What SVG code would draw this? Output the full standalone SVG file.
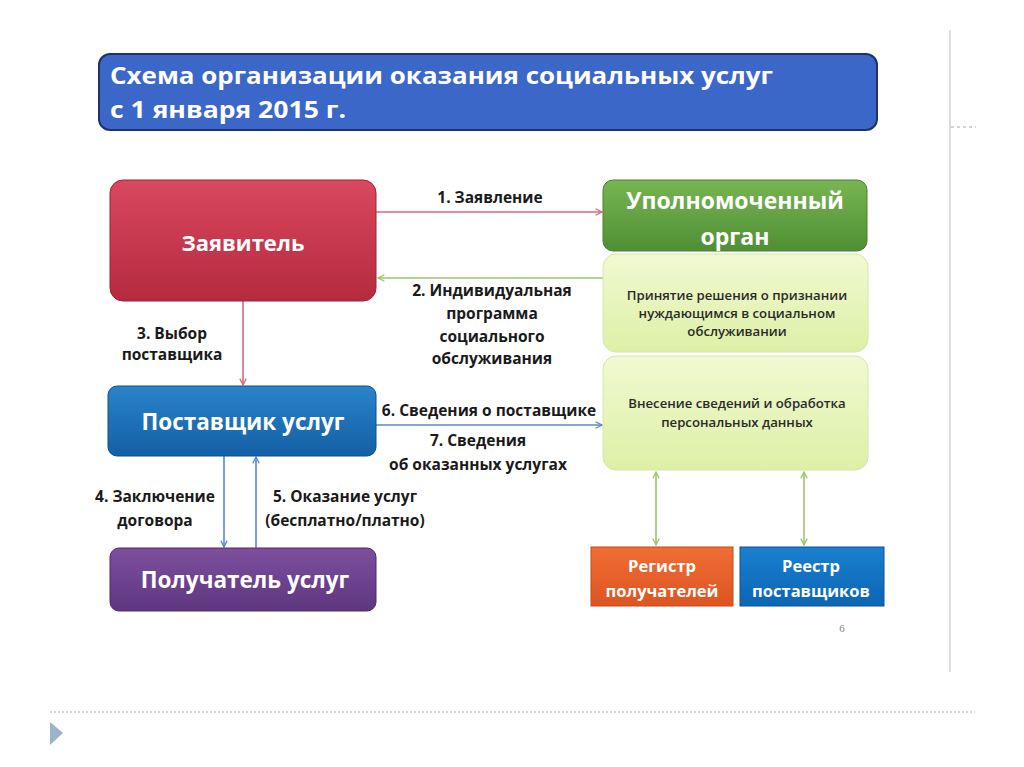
<svg xmlns="http://www.w3.org/2000/svg" width="1024" height="767" viewBox="0 0 1024 767">
<style>
.t{font-family:"Open Sans","Liberation Sans",sans-serif;font-weight:bold}
.wh{fill:#ffffff}
.lbl{font-family:"Open Sans","Liberation Sans",sans-serif;font-weight:bold;font-size:15.5px;fill:#1a1a1a;text-anchor:middle}
.sm{font-family:"Open Sans","Liberation Sans",sans-serif;font-weight:600;font-size:13.2px;fill:#2a2a2a;text-anchor:middle}
.mid{text-anchor:middle}
</style>
<defs>
<linearGradient id="gRed" x1="0" y1="0" x2="0" y2="1"><stop offset="0" stop-color="#d9485e"/><stop offset="1" stop-color="#b52a3e"/></linearGradient>
<linearGradient id="gGreen" x1="0" y1="0" x2="0" y2="1"><stop offset="0" stop-color="#78b552"/><stop offset="1" stop-color="#4f8f35"/></linearGradient>
<linearGradient id="gLight" x1="0" y1="0" x2="0" y2="1"><stop offset="0" stop-color="#f1f9d2"/><stop offset="1" stop-color="#ddf0a6"/></linearGradient>
<linearGradient id="gBlue" x1="0" y1="0" x2="0" y2="1"><stop offset="0" stop-color="#2a84c8"/><stop offset="1" stop-color="#135fa6"/></linearGradient>
<linearGradient id="gPurple" x1="0" y1="0" x2="0" y2="1"><stop offset="0" stop-color="#7d4f9c"/><stop offset="1" stop-color="#5e3680"/></linearGradient>
<linearGradient id="gOrange" x1="0" y1="0" x2="0" y2="1"><stop offset="0" stop-color="#f06d34"/><stop offset="1" stop-color="#dc5522"/></linearGradient>
<linearGradient id="gBlue2" x1="0" y1="0" x2="0" y2="1"><stop offset="0" stop-color="#1a7fd0"/><stop offset="1" stop-color="#0c66b4"/></linearGradient>
<marker id="aRed" viewBox="0 0 10 10" refX="9" refY="5" markerWidth="8" markerHeight="8" orient="auto-start-reverse" markerUnits="userSpaceOnUse"><path d="M1,1 L9,5 L1,9" fill="none" stroke="#d9677a" stroke-width="1.6"/></marker>
<marker id="aGreen" viewBox="0 0 10 10" refX="9" refY="5" markerWidth="8" markerHeight="8" orient="auto-start-reverse" markerUnits="userSpaceOnUse"><path d="M1,1 L9,5 L1,9" fill="none" stroke="#9cc46e" stroke-width="1.6"/></marker>
<marker id="aBlue" viewBox="0 0 10 10" refX="9" refY="5" markerWidth="8" markerHeight="8" orient="auto-start-reverse" markerUnits="userSpaceOnUse"><path d="M1,1 L9,5 L1,9" fill="none" stroke="#5f86c4" stroke-width="1.6"/></marker>
</defs>
<rect width="1024" height="767" fill="#ffffff"/>
<g id="frame">
<line x1="950" y1="30" x2="950" y2="672" stroke="#d0d0d0" stroke-width="1.5"/>
<line x1="951" y1="127" x2="976" y2="127" stroke="#9aaabb" stroke-width="1" stroke-dasharray="3,3"/>
<line x1="50" y1="712" x2="975" y2="712" stroke="#9ab4c8" stroke-width="1.2" stroke-dasharray="2,2"/>
<path d="M50,722 L63,733 L50,745 Z" fill="#9ab4c8"/>
</g>
<g id="title">
<rect x="99" y="54" width="778" height="76" rx="11" fill="#3b67c9" stroke="#1e3468" stroke-width="2"/>
<text class="t wh" x="110" y="84" font-size="24" textLength="663" lengthAdjust="spacingAndGlyphs">Схема организации оказания социальных услуг</text>
<text class="t wh" x="110" y="118" font-size="24" textLength="236" lengthAdjust="spacingAndGlyphs">с 1 января 2015 г.</text>
</g>
<g id="connectors" fill="none" stroke-width="1.6">
<line x1="376" y1="212" x2="602" y2="212" stroke="#d9677a" marker-end="url(#aRed)"/>
<line x1="603" y1="278" x2="378" y2="278" stroke="#9cc46e" marker-end="url(#aGreen)"/>
<line x1="243" y1="301" x2="243" y2="385" stroke="#d9677a" marker-end="url(#aRed)"/>
<line x1="376" y1="425" x2="602" y2="425" stroke="#5f86c4" marker-end="url(#aBlue)"/>
<line x1="224" y1="456" x2="224" y2="547" stroke="#5f86c4" marker-end="url(#aBlue)"/>
<line x1="256" y1="548" x2="256" y2="457" stroke="#5f86c4" marker-end="url(#aBlue)"/>
<line x1="656" y1="472" x2="656" y2="545" stroke="#9cc46e" marker-start="url(#aGreen)" marker-end="url(#aGreen)"/>
<line x1="804" y1="472" x2="804" y2="545" stroke="#9cc46e" marker-start="url(#aGreen)" marker-end="url(#aGreen)"/>
</g>
<g id="labels">
<text class="lbl" x="490" y="203">1. Заявление</text>
<text class="lbl" x="492" y="296">2. Индивидуальная</text>
<text class="lbl" x="492" y="319">программа</text>
<text class="lbl" x="492" y="342">социального</text>
<text class="lbl" x="492" y="364">обслуживания</text>
<text class="lbl" x="172" y="339">3. Выбор</text>
<text class="lbl" x="172" y="360">поставщика</text>
<text class="lbl" x="489" y="416">6. Сведения о поставщике</text>
<text class="lbl" x="478" y="446">7. Сведения</text>
<text class="lbl" x="478" y="470">об оказанных услугах</text>
<text class="lbl" x="155" y="502">4. Заключение</text>
<text class="lbl" x="155" y="526">договора</text>
<text class="lbl" x="345" y="502">5. Оказание услуг</text>
<text class="lbl" x="345" y="526">(бесплатно/платно)</text>
</g>
<g id="zayavitel">
<rect x="110" y="180" width="266" height="121" rx="13" fill="url(#gRed)" stroke="#9e2436" stroke-width="1"/>
<text class="t wh mid" x="243" y="251" font-size="22">Заявитель</text>
</g>
<g id="upolnomochenny">
<rect x="603" y="180" width="264" height="71" rx="10" fill="url(#gGreen)" stroke="#4a8030" stroke-width="1"/>
<text class="t wh mid" x="735" y="209" font-size="23">Уполномоченный</text>
<text class="t wh mid" x="735" y="245" font-size="23">орган</text>
</g>
<g id="reshenie">
<rect x="603" y="254" width="265" height="98" rx="13" fill="url(#gLight)" stroke="#d6e8a8" stroke-width="1"/>
<text class="sm" x="737" y="300">Принятие решения о признании</text>
<text class="sm" x="737" y="318">нуждающимся в социальном</text>
<text class="sm" x="737" y="336">обслуживании</text>
</g>
<g id="vnesenie">
<rect x="603" y="356" width="265" height="114" rx="13" fill="url(#gLight)" stroke="#d6e8a8" stroke-width="1"/>
<text class="sm" x="737" y="408">Внесение сведений и обработка</text>
<text class="sm" x="737" y="427">персональных данных</text>
</g>
<g id="postavshchik">
<rect x="108" y="386" width="268" height="70" rx="9" fill="url(#gBlue)" stroke="#0f4e8a" stroke-width="1"/>
<text class="t wh mid" x="243" y="430" font-size="22.5">Поставщик услуг</text>
</g>
<g id="poluchatel">
<rect x="110" y="548" width="266" height="63" rx="9" fill="url(#gPurple)" stroke="#4c2a68" stroke-width="1"/>
<text class="t wh mid" x="245" y="588" font-size="22.5">Получатель услуг</text>
</g>
<g id="registr">
<rect x="591" y="547" width="142" height="59" fill="url(#gOrange)" stroke="#c24a1c" stroke-width="1"/>
<text class="t wh mid" x="662" y="572" font-size="16.5">Регистр</text>
<text class="t wh mid" x="662" y="597" font-size="16.5">получателей</text>
</g>
<g id="reestr">
<rect x="740" y="547" width="144" height="59" fill="url(#gBlue2)" stroke="#0a5596" stroke-width="1"/>
<text class="t wh mid" x="811" y="572" font-size="16.5">Реестр</text>
<text class="t wh mid" x="811" y="597" font-size="16.5">поставщиков</text>
</g>
<text x="842" y="632" font-family="Liberation Serif, serif" font-size="11" fill="#888888" text-anchor="middle">6</text>
</svg>
